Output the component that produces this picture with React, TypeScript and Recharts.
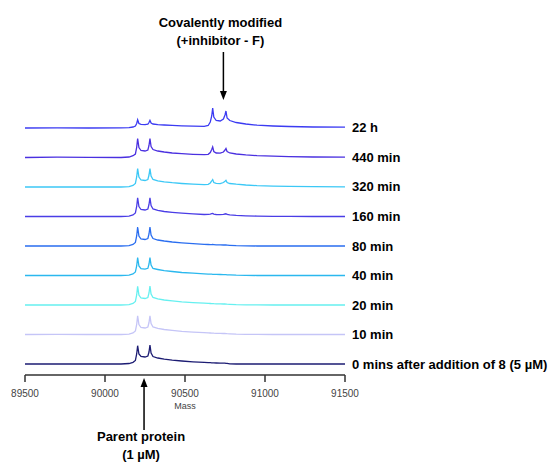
import React from "react";
import { LineChart, Line, XAxis, YAxis, ReferenceLine } from "recharts";

// Shared mass grid (Da)
const masses = [
  89500, 89700, 89900, 90100, 90150, 90175, 90190, 90198, 90204, 90212,
  90225, 90250, 90268, 90275, 90281, 90288, 90300, 90330, 90370, 90420,
  90480, 90550, 90620, 90645, 90658, 90667, 90673, 90680, 90695, 90720,
  90740, 90750, 90756, 90763, 90780, 90820, 90880, 90950, 91050, 91150,
  91300, 91500,
];

// Relative intensities per time point
const t0min = [0,0,0,0,0.5,1.7,3.5,10,18.3,10,7.5,7,8,12,19,11,7.5,6,4.8,3.8,3,2.2,1.6,1.4,1.3,1.2,1.2,1.1,1,0.9,0.8,0.8,0.7,0.6,0.1,0,0,0,0,0,0,0];
const t10min = [0,0.2,0,0,0.4,1.5,3.5,10,18.6,10,7,6.5,7.5,12,18.6,11,7.5,6.2,5,4.1,3.2,2.4,1.8,1.6,1.5,1.4,1.4,1.3,1.2,1.1,1,1,0.9,0.8,0.7,0.4,0.2,0.1,0,0,0,0];
const t20min = [0,0,0,0,0.4,1.5,3.5,10,18.6,10,7,6.5,7.5,12,19,11,7.5,6.2,5,4.1,3.2,2.4,1.8,1.6,1.5,1.4,1.4,1.3,1.2,1.1,1,1,0.9,0.8,0.7,0.4,0.2,0.1,0,0,0,0];
const t40min = [0,0,0,0,0.4,1.5,3.5,9.5,18,9.5,6.8,6.3,7.2,11.5,18,10.5,7,6,4.8,4,3,2.3,1.6,1.4,1.3,1.3,1.2,1.2,1.1,1,0.9,0.8,0.8,0.7,0.6,0.3,0.1,0,0,0,0,0];
const t80min = [0,0,0,0,0.4,1.5,3.5,10,19,10,7,6.5,7.5,12,19,11,7.5,6,5,4,3.2,2.4,1.7,1.5,1.4,1.4,1.5,1.4,1.2,1.1,1.0,1.0,1.0,0.9,0.7,0.3,0.1,0,0,0,0,0];
const t160min = [0,0,0,0,0.4,1.5,3.5,10,18.7,10,7,6.5,7.5,12,18.7,11,7.5,6.2,5,4.2,3.4,2.6,2,2.1,2.4,2.8,3,2.4,2,1.9,2.2,2.5,2.7,2,1.6,1.1,0.7,0.4,0.2,0.1,0,0];
const t320min = [0,0,0,0,0.4,1.5,3.5,10,18.4,10,7,6.5,7.5,12,18.4,11,7.5,6.2,5.2,4.3,3.5,2.8,2.3,2.6,4,6,7.4,4.5,3.6,3.4,4.5,5.8,6.7,4.5,3.5,2.8,2,1.4,0.9,0.6,0.3,0.2];
const t440min = [0,0.3,0.2,0,0.5,1.8,3.5,10,19,10,7,6.5,7.5,12,19,11,8,6.5,5.5,4.5,3.8,3.2,2.8,3.2,5,8,10.6,6,4.5,4.3,5.5,7.5,9,6,4.5,3.5,2.6,1.9,1.3,0.9,0.5,0.4];
const t22h = [0,0.2,0,0.2,0.4,1,2,4.5,8.3,4.5,3.6,3.4,3.8,5.5,7.7,5,4,3.4,3,2.6,2.2,1.9,1.7,2.5,6,12,20,11,7.5,7,9,13,17,10,7.5,5.5,4,2.8,2,1.5,1,0.8];

const seriesLabels = [
  "0 mins after addition of 8 (5 µM)",
  "10 min",
  "20 min",
  "40 min",
  "80 min",
  "160 min",
  "320 min",
  "440 min",
  "22 h",
];
const seriesColors = [
  "#1c1c73",
  "#c5c5f7",
  "#66f0f0",
  "#2bb8ee",
  "#2a6ef0",
  "#4a3de6",
  "#3cc8f6",
  "#4a30e0",
  "#3b3bf2",
];
const seriesValues = [t0min, t10min, t20min, t40min, t80min, t160min, t320min, t440min, t22h];

const xTicks = [89500, 90000, 90500, 91000, 91500];

// stacking offsets (display units)
const BASE = 11;
const GAP = 29.5;

const rows = masses.map((m, i) => {
  const r: Record<string, number> = { mass: m };
  seriesValues.forEach((vals, s) => {
    r["s" + s] = BASE + s * GAP + vals[i];
  });
  return r;
});

const FONT = "'Liberation Sans', Arial, sans-serif";

const makeLabel = (text: string) => (props: any) => {
  if (props.index !== masses.length - 1) return null;
  return (
    <text
      x={props.x + 7}
      y={props.y}
      dy="0.36em"
      fontFamily={FONT}
      fontSize={13}
      fontWeight="bold"
      fill="#000"
    >
      {text}
    </text>
  );
};

const arrowShape = (lines: string[], textAtTop: boolean) => (props: any) => {
  const { x1, y1, x2, y2 } = props;
  // arrow tip at (x2, y2)
  const dir = y2 > y1 ? 1 : -1;
  const head = 9;
  const half = 3.5;
  const textY = textAtTop ? y1 - 25 : y1 + 11;
  return (
    <g>
      <line x1={x1} y1={y1} x2={x2} y2={y2 - dir * head} stroke="#000" strokeWidth={1.5} />
      <polygon
        points={`${x2},${y2} ${x2 - half},${y2 - dir * head} ${x2 + half},${y2 - dir * head}`}
        fill="#000"
      />
      {lines.map((t, k) => (
        <text
          key={k}
          x={x1 - 3}
          y={textY + k * 18}
          textAnchor="middle"
          fontFamily={FONT}
          fontSize={13}
          fontWeight="bold"
          fill="#000"
        >
          {t}
        </text>
      ))}
    </g>
  );
};

export default function App() {
  return (
    <div style={{ position: "absolute", left: 0, top: 0, width: 553, height: 463, background: "#fff" }}>
      <LineChart
        width={553}
        height={463}
        data={rows}
        margin={{ top: 95, right: 208, bottom: 58, left: 25 }}
      >
        <XAxis
          dataKey="mass"
          type="number"
          domain={[89500, 91500]}
          ticks={xTicks}
          tickSize={7}
          tickMargin={8}
          height={30}
          axisLine={{ stroke: "#333", strokeWidth: 1.5 }}
          tickLine={{ stroke: "#333", strokeWidth: 1.5 }}
          tick={{ fontSize: 10, fill: "#444", fontFamily: FONT }}
          label={(p: any) => {
            const vb = p.viewBox || {};
            return (
              <text
                x={vb.x + vb.width / 2}
                y={vb.y + 34}
                textAnchor="middle"
                fontFamily={FONT}
                fontSize={9}
                fill="#444"
              >
                Mass
              </text>
            );
          }}
        />
        <YAxis hide type="number" domain={[0, 280]} />
        {seriesValues.map((_, s) => (
          <Line
            key={s}
            dataKey={"s" + s}
            type="linear"
            stroke={seriesColors[s]}
            strokeWidth={1.3}
            dot={false}
            activeDot={false}
            isAnimationActive={false}
            label={makeLabel(seriesLabels[s])}
          />
        ))}
        <ReferenceLine
          segment={[{ x: 90740, y: 323 }, { x: 90740, y: 275 }]}
          ifOverflow="visible"
          shape={arrowShape(["Covalently modified", "(+inhibitor - F)"], true)}
        />
        <ReferenceLine
          segment={[{ x: 90244, y: -55 }, { x: 90244, y: -3 }]}
          ifOverflow="visible"
          shape={arrowShape(["Parent protein", "(1 µM)"], false)}
        />
      </LineChart>
    </div>
  );
}
